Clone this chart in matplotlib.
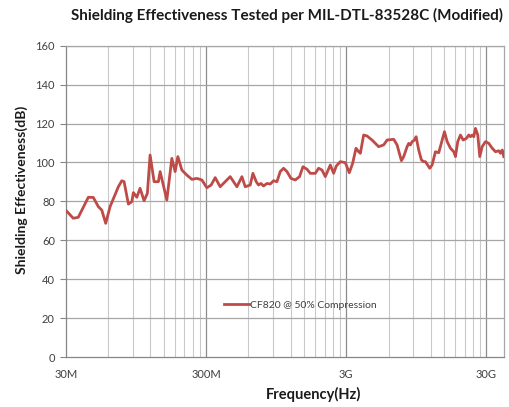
import matplotlib
matplotlib.use("Agg")
import matplotlib.pyplot as plt
from matplotlib.ticker import FixedLocator, NullFormatter

# Frequency in MHz and shielding effectiveness in dB
freq_mhz = [30.3, 33.8, 36.7, 43.3, 47.0, 51.0, 54.0, 57.6, 61.9, 70.9, 75.0, 77.9,
            83.6, 88.4, 90.8, 96.0, 101.3, 108.2, 114.2, 119.4, 127.6, 136.9, 140.8,
            157.2, 170.7, 180.2, 188.4, 201.2, 218.4, 237.2, 257.5, 279.5, 303.5,
            325.7, 347.9, 377.7, 410.0, 445.2, 497.1, 539.7, 570.0, 618.7, 646.8,
            682.9, 709.3, 737.6, 770.0, 814.3, 859.6, 907.6, 959.7, 1013, 1070,
            1131, 1208, 1297, 1391, 1471, 1572, 1660, 1802, 1902, 2012, 2124, 2306,
            2435, 2546, 2718, 2951, 3150, 3327, 3518, 3673, 3777, 3988, 4217, 4577,
            5104, 5540, 5858, 6532, 6906, 7416, 7700, 8143, 8359, 8596, 8841, 9178,
            9441, 9852, 10300, 10700, 11000, 11810, 12280, 12970, 13690, 15040,
            15720, 16600, 17530, 18020, 18710, 19560, 20450, 21590, 22420, 23060,
            23710, 24340, 25030, 26000, 26870, 27950, 29510, 31160, 32950, 34790,
            36730, 37770, 38840, 39840]
se_db = [75.0, 71.3, 71.8, 82.1, 82.0, 77.3, 75.5, 68.7, 77.3, 87.5, 90.6, 90.1,
         78.6, 79.8, 84.5, 82.1, 86.7, 80.3, 84.1, 103.8, 90.1, 90.1, 95.3,
         80.7, 102.1, 95.3, 103.0, 96.1, 93.5, 91.3, 91.8, 91.0, 87.0,
         88.4, 92.2, 87.5, 90.1, 92.7, 87.5, 92.7, 87.5, 88.4, 94.4,
         90.1, 88.4, 89.2, 87.9, 89.2, 88.9, 90.6, 90.1, 95.3, 97.0,
         95.3, 91.8, 91.0, 92.7, 97.8, 96.5, 94.4, 94.4, 97.0, 96.1, 92.7, 98.7,
         94.4, 98.2, 100.4, 99.9, 94.7, 99.5, 107.3, 105.5, 104.7, 114.1, 113.6, 111.5,
         108.1, 109.0, 111.5, 111.9, 109.0, 100.9, 103.0, 108.1, 109.8, 109.0, 110.7, 111.5,
         113.2, 106.4, 101.3, 100.4, 100.4, 97.0, 98.7, 105.5, 105.0, 115.8,
         110.7, 107.3, 105.5, 103.0, 110.7, 114.1, 111.5, 112.4, 114.1, 113.2,
         114.1, 113.2, 117.5, 114.1, 103.0, 108.1, 110.7, 109.8, 107.3, 105.5,
         106.0, 104.7, 106.4, 103.0]

series_label = "CF820 @ 50% Compression"
x_tick_values = [30e6, 300e6, 3e9, 30e9]
x_tick_labels = ["30M", "300M", "3G", "30G"]
y_ticks = [0, 20, 40, 60, 80, 100, 120, 140, 160]

fig = plt.figure(figsize=(5.09, 4.07), dpi=100)
ax = fig.add_axes([66/509, 50/407, 438/509, 311.3/407])

freq_hz = [f * 1e6 for f in freq_mhz]

ax.set_xscale("log")
ax.set_xlim(30e6, 40e9)
ax.set_ylim(0, 160)

# minor grid at k*30M
minor = []
for dec in [30e6, 300e6, 3e9]:
    for k in range(2, 10):
        minor.append(dec * k)
for m in minor:
    ax.axvline(m, color="#c9c9c9", lw=0.8, zorder=1)
for m in x_tick_values[1:]:
    ax.axvline(m, color="#8c8c8c", lw=0.9, zorder=1)
for y in y_ticks[1:]:
    ax.axhline(y, color="#a6a6a6", lw=0.9, zorder=1)

ax.plot(freq_hz, se_db, color="#BE4B48", lw=2.0, label=series_label, zorder=3)

ax.xaxis.set_major_locator(FixedLocator(x_tick_values))
ax.set_xticklabels(x_tick_labels)
ax.xaxis.set_minor_locator(FixedLocator([]))
ax.xaxis.set_minor_formatter(NullFormatter())
ax.set_yticks(y_ticks)

tick_font = dict(family=["Lato", "DejaVu Sans"], size=8, color="#404040")
for lbl in ax.get_xticklabels() + ax.get_yticklabels():
    lbl.set_fontfamily(["Lato", "DejaVu Sans"])
    lbl.set_fontsize(8)
    lbl.set_color("#404040")
ax.tick_params(axis="x", length=0, pad=9)
ax.tick_params(axis="y", length=4, color="#868686", pad=4)

for s in ax.spines.values():
    s.set_color("#a6a6a6")
    s.set_linewidth(0.9)
ax.spines["left"].set_color("#868686")
ax.spines["bottom"].set_color("#868686")

fig.text(287/509, 1 - 15/407, "Shielding Effectiveness Tested per MIL-DTL-83528C (Modified)",
         ha="center", va="center", fontsize=11, fontweight="bold",
         family=["Lato", "DejaVu Sans"], color="#1a1a1a")
fig.text(22/509, 1 - 190/407, "Shielding Effectiveness(dB)", rotation=90,
         ha="center", va="center", fontsize=10, fontweight="bold",
         family=["Lato", "DejaVu Sans"], color="#1a1a1a")
fig.text(314/509, 1 - 394/407, "Frequency(Hz)", ha="center", va="center",
         fontsize=10.5, fontweight="bold", family=["Lato", "DejaVu Sans"], color="#1a1a1a")

leg = ax.legend(loc="center", bbox_to_anchor=(0.534, 0.167), frameon=False,
                prop={"family": ["Lato", "DejaVu Sans"], "size": 7.5},
                handlelength=2.4, handletextpad=0.1)
for t in leg.get_texts():
    t.set_color("#404040")

fig.savefig("out.png", dpi=100)
